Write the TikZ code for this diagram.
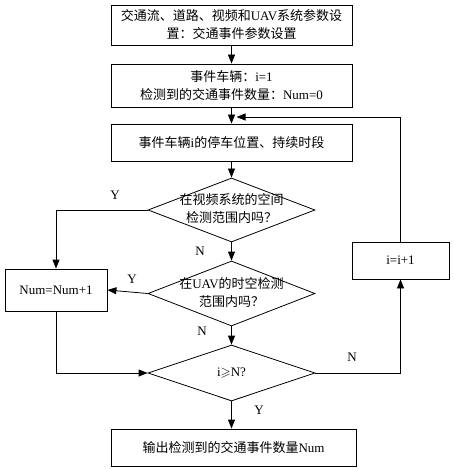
\documentclass[tikz,border=0pt]{standalone}
\usepackage{amssymb}
\usepackage{fontspec}
\setmainfont{Liberation Serif}
\newfontfamily\cjkfont{Noto Sans CJK SC}
\usetikzlibrary{arrows.meta,shapes.geometric}
% chinese text in its own font
\newcommand{\zh}[1]{{\cjkfont #1}}
% two centred lines that take no width inside a diamond
\newcommand{\dtext}[1]{\makebox[0pt]{\begin{tabular}{@{}c@{}}#1\end{tabular}}}
\tikzset{
  box/.style={draw, line width=0.8pt, minimum width=241pt, align=center,
    inner sep=2pt},
  decision/.style={diamond, draw, line width=0.8pt, minimum width=167pt,
    inner sep=0pt},
  flow/.style={->, line width=0.8pt},
  yn/.style={inner sep=0pt}
}
\begin{document}
\begin{tikzpicture}[x=1pt, y=-1pt, >={Triangle[length=9pt,width=7pt]},
  font=\fontsize{13}{18}\selectfont]
  \useasboundingbox (0,0) rectangle (453,470);
  \node[box, minimum height=40pt] (setup) at (231.5,25)
    {\zh{交通流、道路、视频和}UAV\zh{系统参数设}\\\zh{置：交通事件参数设置}};
  \node[box, minimum height=43pt] (init) at (231.5,85.5)
    {\zh{事件车辆：}i=1\\\zh{检测到的交通事件数量：}Num=0};
  \node[box, minimum height=37pt] (stop) at (231.5,142.5)
    {\zh{事件车辆}i\zh{的停车位置、持续时段}};
  \node[decision, minimum height=64pt] (video) at (231.5,210)
    {\dtext{\zh{在视频系统的空间}\\\zh{检测范围内吗？}}};
  \node[decision, minimum height=65pt] (uav) at (231.5,293.5)
    {\dtext{\zh{在}UAV\zh{的时空检测}\\\zh{范围内吗？}}};
  \node[decision, minimum height=56pt] (last) at (231.5,373)
    {i$\geqslant$N?};
  \node[box, minimum width=102pt, minimum height=42pt] (count) at (56,290)
    {Num=Num+1};
  \node[box, minimum width=97pt, minimum height=37pt] (next) at (400.5,260.5)
    {i=i+1};
  \node[box, minimum width=245pt, minimum height=37pt] (result) at (233.5,447.5)
    {\zh{输出检测到的交通事件数量}Num};
  \coordinate (back) at (236.5,117);

  \draw[flow] (setup) -- (init);
  \draw[flow] (init) -- (stop);
  \draw[flow] (stop) -- (video);
  \draw[flow] (video) -- (uav);
  \draw[flow] (uav) -- (last);
  \draw[flow] (video.west) -| (count.north);
  \draw[flow] (uav.west) -- (count.east);
  \draw[flow] (count.south) |- (last.west);
  \draw[flow] (last.east) -| (next.south);
  \draw[flow] (next.north) |- (back);
  \draw[flow] (last.south) -- (last.south |- result.north);

  \node[yn] (yvideo) at (115,195) {Y};
  \node[yn] (nvideo) at (200,251) {N};
  \node[yn] (yuav) at (132,279) {Y};
  \node[yn] (nuav) at (202,331) {N};
  \node[yn] (nlast) at (352,357) {N};
  \node[yn] (ylast) at (259,410) {Y};
\end{tikzpicture}
\end{document}
